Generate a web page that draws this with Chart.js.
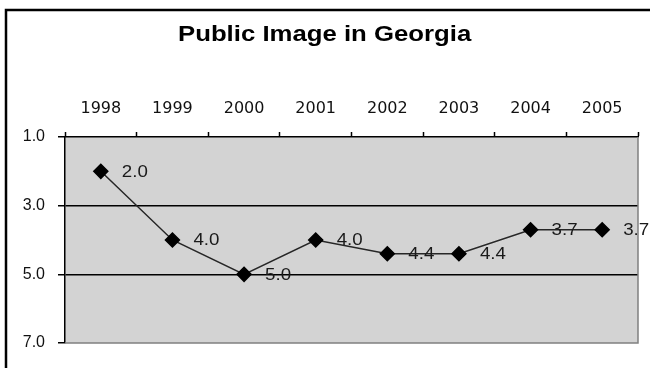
<!DOCTYPE html>
<html>
<head>
<meta charset="utf-8">
<script src="https://cdn.jsdelivr.net/npm/chart.js@4/dist/chart.umd.min.js"></script>
<style>
  html, body { margin: 0; padding: 0; background: #fff; overflow: hidden; }
  #wrap { width: 650px; height: 368px; position: relative; }
</style>
</head>
<body>
<div id="wrap"><canvas id="myChart"></canvas></div>
<script>
var years = ["1998", "1999", "2000", "2001", "2002", "2003", "2004", "2005"];
var scores = [2.0, 4.0, 5.0, 4.0, 4.4, 4.4, 3.7, 3.7];
var yTicks = [1.0, 3.0, 5.0, 7.0];
var chartTitle = "Public Image in Georgia";

const ctx = document.getElementById("myChart").getContext("2d");

// text drawn slightly stretched sideways, like the original picture
function wideText(c, text, x, y, sx) {
  c.save();
  c.translate(x, y);
  c.scale(sx, 1);
  c.fillText(text, 0, 0);
  c.restore();
}

const myChart = new Chart(ctx, {
  type: "line",
  data: {
    labels: years,
    datasets: [
      {
        data: scores,
        borderColor: "#262626",
        borderWidth: 1.5,
        pointStyle: "rectRot",
        pointRadius: 7,
        pointBackgroundColor: "#000",
        pointBorderColor: "#000",
        tension: 0,
      },
    ],
  },
  options: {
    responsive: true,
    maintainAspectRatio: false,
    animation: false,
    layout: { padding: { left: 0, top: 0, right: 12, bottom: 25 } },
    plugins: {
      legend: { display: false },
      tooltip: { enabled: false },
    },
    scales: {
      x: {
        position: "top",
        offset: true,
        grid: {
          offset: true,
          drawOnChartArea: false,
          tickLength: 5,
          tickColor: "#000",
          tickWidth: 1.5,
        },
        border: { color: "#000", width: 1.5 },
        ticks: {
          color: "#111",
          padding: 14,
          font: { family: "DejaVu Sans, sans-serif", size: 16 },
        },
        afterFit: function (s) { s.height = 137; },
      },
      y: {
        reverse: true,
        min: 1,
        max: 7,
        afterBuildTicks: function (s) {
          s.ticks = yTicks.map(function (v) { return { value: v }; });
        },
        grid: {
          color: function (c) {
            return c.tick && (c.tick.value === 3 || c.tick.value === 5) ? "#000" : "rgba(0,0,0,0)";
          },
          lineWidth: 1.5,
          tickLength: 7,
          tickColor: "#000",
          tickWidth: 1.5,
        },
        border: { color: "#000", width: 1.5 },
        ticks: {
          color: "#111",
          padding: 13,
          font: { family: "Liberation Sans, Arial, sans-serif", size: 16 },
          callback: function (v) { return Number(v).toFixed(1); },
        },
        afterFit: function (s) { s.width = 65; },
      },
    },
  },
  plugins: [
    {
      id: "frame",
      beforeDraw: function (chart) {
        const c = chart.ctx;
        const a = chart.chartArea;
        c.save();
        // outer frame: only left and top edges show
        c.strokeStyle = "#000";
        c.lineWidth = 2.5;
        c.beginPath();
        c.moveTo(6, 368);
        c.lineTo(6, 10);
        c.lineTo(650, 10);
        c.stroke();
        // plot background
        c.fillStyle = "#d3d3d3";
        c.fillRect(a.left, a.top, a.right - a.left, a.bottom - a.top);
        // title
        c.fillStyle = "#000";
        c.font = "bold 22px Liberation Sans, Arial, sans-serif";
        c.textAlign = "left";
        c.textBaseline = "alphabetic";
        wideText(c, chartTitle, 178, 41, 1.17);
        c.restore();
      },
      afterDatasetsDraw: function (chart) {
        const c = chart.ctx;
        const a = chart.chartArea;
        const meta = chart.getDatasetMeta(0);
        c.save();
        c.fillStyle = "#1a1a1a";
        c.font = "16px Liberation Sans, Arial, sans-serif";
        c.textAlign = "left";
        c.textBaseline = "middle";
        meta.data.forEach(function (pt, i) {
          wideText(c, scores[i].toFixed(1), pt.x + 21, pt.y + 1, 1.17);
        });
        // gray right and bottom edges of the plot
        c.strokeStyle = "#808080";
        c.lineWidth = 1.5;
        c.beginPath();
        c.moveTo(a.right, a.top);
        c.lineTo(a.right, a.bottom);
        c.lineTo(a.left, a.bottom);
        c.stroke();
        c.restore();
      },
    },
  ],
});
</script>
</body>
</html>
